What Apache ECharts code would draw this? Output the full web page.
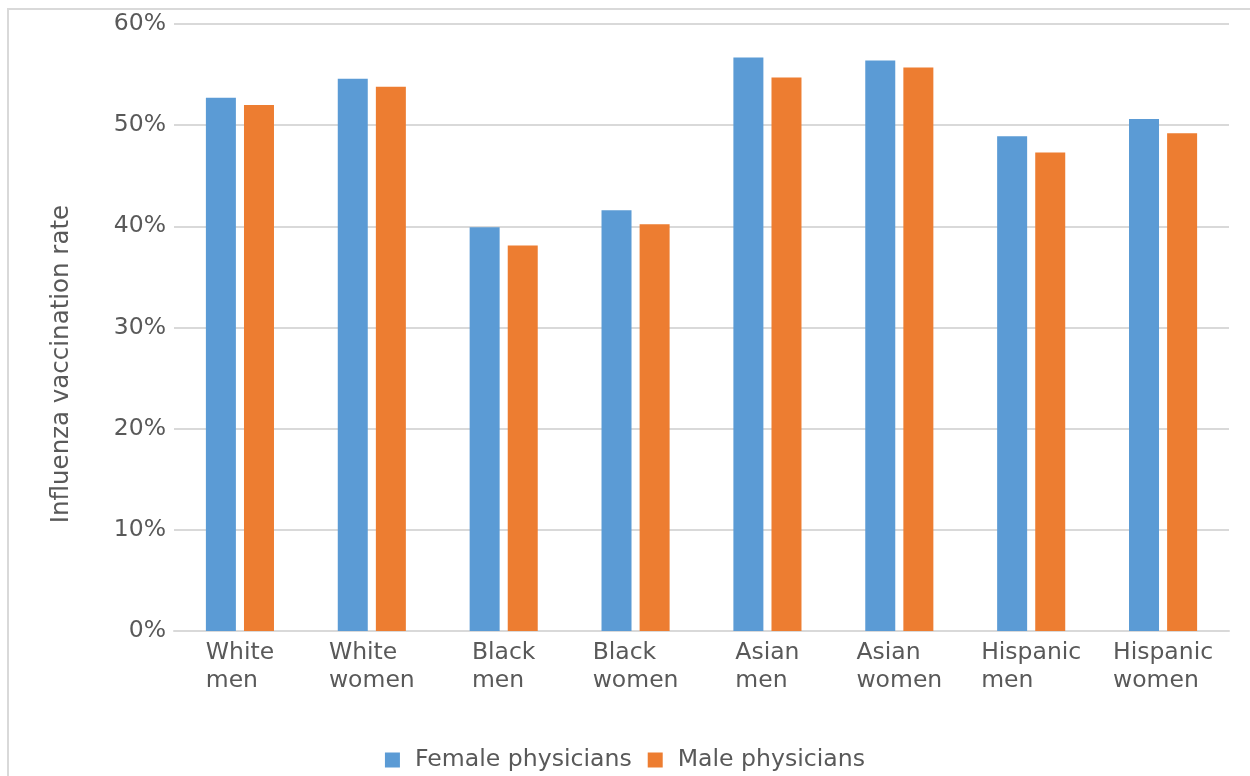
<!DOCTYPE html>
<html>
<head>
<meta charset="utf-8">
<style>
  html, body { margin: 0; padding: 0; background: #ffffff; }
  #chart { width: 1250px; height: 776px; }
</style>
<script src="https://cdn.jsdelivr.net/npm/echarts@6/dist/echarts.min.js"></script>
</head>
<body>
<div id="chart"></div>
<script>
// Influenza vaccination rate by patient group, split by physician gender (%)
const categories = [
  ['White', 'men'], ['White', 'women'],
  ['Black', 'men'], ['Black', 'women'],
  ['Asian', 'men'], ['Asian', 'women'],
  ['Hispanic', 'men'], ['Hispanic', 'women']
];
const femalePhysicians = [52.7, 54.6, 39.9, 41.6, 56.7, 56.4, 48.9, 50.6];
const malePhysicians   = [52.0, 53.8, 38.1, 40.2, 54.7, 55.7, 47.3, 49.2];
const seriesNames = ['Female physicians', 'Male physicians'];
const yAxisTitle = 'Influenza vaccination rate';

const FONT = '"DejaVu Sans", sans-serif';
const TEXT = '#595959';
const GRID_LINE = '#d9d9d9';

const chart = echarts.init(document.getElementById('chart'), null, { renderer: 'canvas' });

chart.setOption({
  backgroundColor: '#ffffff',
  animation: false,
  textStyle: { fontFamily: FONT },
  grid: { left: 174, right: 21, top: 24, bottom: 145, containLabel: false },
  legend: {
    top: 748,
    left: 'center',
    padding: 0,
    icon: 'rect',
    itemWidth: 15,
    itemHeight: 15,
    itemGap: 16,
    textStyle: { fontFamily: FONT, fontSize: 23.6, color: TEXT, padding: [0, 0, 0, 10] },
    data: seriesNames
  },
  xAxis: {
    type: 'category',
    data: categories.map(c => c.join('\n')),
    axisLine: { show: true, lineStyle: { color: GRID_LINE, width: 2 } },
    axisTick: { show: false },
    axisLabel: {
      interval: 0,
      margin: 8,
      color: TEXT,
      fontFamily: FONT,
      fontSize: 23.5,
      lineHeight: 28,
      formatter: v => v.split('\n').map(s => '{l|' + s + '}').join('\n'),
      rich: { l: { align: 'left', fontSize: 23.5, lineHeight: 28, color: TEXT, fontFamily: FONT } }
    }
  },
  yAxis: {
    type: 'value',
    min: 0,
    max: 60,
    interval: 10,
    axisLine: { show: false },
    axisTick: { show: false },
    splitLine: { show: true, lineStyle: { color: GRID_LINE, width: 2 } },
    axisLabel: {
      margin: 8,
      color: TEXT,
      fontFamily: FONT,
      fontSize: 23.5,
      formatter: '{value}%'
    }
  },
  graphic: [
    {
      type: 'polyline',
      silent: true,
      shape: { points: [[8, 776], [8, 9], [1250, 9]] },
      style: { stroke: GRID_LINE, lineWidth: 2, fill: null }
    },
    {
      type: 'text',
      x: 62,
      y: 364,
      rotation: Math.PI / 2,
      silent: true,
      style: {
        text: yAxisTitle,
        fill: TEXT,
        font: '24.5px ' + FONT,
        align: 'center',
        verticalAlign: 'middle'
      }
    }
  ],
  series: [
    {
      name: seriesNames[0],
      type: 'bar',
      data: femalePhysicians,
      barWidth: 30,
      barGap: '27%',
      itemStyle: { color: '#5B9BD5' }
    },
    {
      name: seriesNames[1],
      type: 'bar',
      data: malePhysicians,
      barWidth: 30,
      itemStyle: { color: '#ED7D31' }
    }
  ]
});
</script>
</body>
</html>
